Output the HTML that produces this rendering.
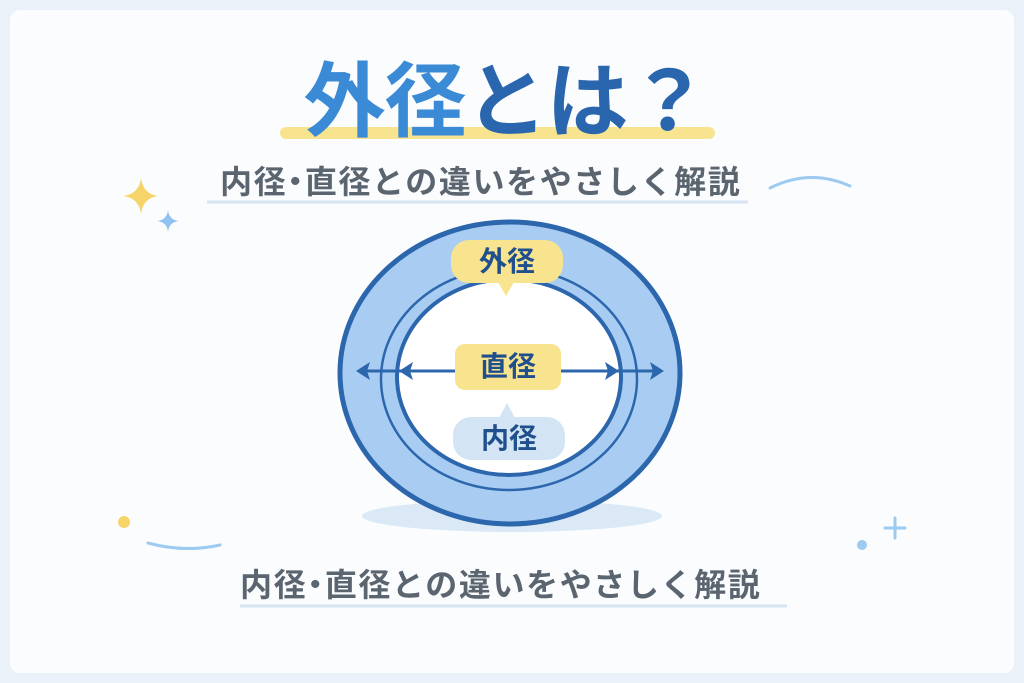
<!DOCTYPE html>
<html><head><meta charset="utf-8"><style>
html,body{margin:0;padding:0;}
body{width:1024px;height:683px;background:#eaf1f8;position:relative;overflow:hidden;font-family:"Liberation Sans","Noto Sans CJK JP",sans-serif;}
.card{position:absolute;left:10px;top:10px;width:1004px;height:663px;background:#fbfcfe;border-radius:10px;}
.t{position:absolute;white-space:nowrap;text-align:center;}
.s{position:absolute;white-space:nowrap;font-size:32px;line-height:40px;color:#5b6570;font-weight:bold;letter-spacing:1.6px;}
</style></head><body>
<div class="card"></div>
<svg width="1024" height="683" style="position:absolute;left:0;top:0">
  <rect x="280" y="127" width="435" height="12" rx="6" fill="#f8e38e"/>
  <line x1="207" y1="202" x2="748" y2="202" stroke="#d6e4f3" stroke-width="3"/>
  <line x1="240" y1="606" x2="787" y2="606" stroke="#d6e4f3" stroke-width="3"/>
  <path d="M141 178 Q143 194 158 196 Q143 198 141 214 Q139 198 123 196 Q139 194 141 178Z" fill="#f6d46a"/>
  <path d="M168 210 Q169 220 179 221 Q169 222 168 232 Q167 222 157 221 Q167 220 168 210Z" fill="#8fc2f0"/>
  <path d="M770 188 Q810 168 850 186" stroke="#9ccaf0" stroke-width="3" fill="none" stroke-linecap="round"/>
  <circle cx="124" cy="522" r="6" fill="#f6d46a"/>
  <path d="M148 543 Q185 553 220 545" stroke="#9ccaf0" stroke-width="3" fill="none" stroke-linecap="round"/>
  <circle cx="862" cy="545" r="5" fill="#9ccaf0"/>
  <path d="M895 518 V538 M885 528 H905" stroke="#9ccaf0" stroke-width="3" stroke-linecap="round"/>
  <ellipse cx="512" cy="516" rx="150" ry="16" fill="#dbe9f7"/>
  <ellipse cx="510" cy="373" rx="170" ry="151" fill="#a9cdf2" stroke="#2c66ad" stroke-width="5"/>
  <ellipse cx="509" cy="379" rx="128" ry="111" fill="none" stroke="#2c66ad" stroke-width="2.5"/>
  <ellipse cx="509" cy="377" rx="112" ry="98" fill="#ffffff" stroke="#2c66ad" stroke-width="4"/>
  <line x1="360" y1="371" x2="660" y2="371" stroke="#2c66ad" stroke-width="3"/>
  <path d="M356 371 L370 362 L367 371 L370 380Z" fill="#2c66ad"/>
  <path d="M664 371 L650 362 L653 371 L650 380Z" fill="#2c66ad"/>
  <path d="M399 371 L413 362 L410 371 L413 380Z" fill="#2c66ad"/>
  <path d="M619 371 L605 362 L608 371 L605 380Z" fill="#2c66ad"/>
  <rect x="451" y="240" width="112" height="43" rx="18" fill="#f8e38e"/>
  <path d="M498 282 L506 296 L514 282Z" fill="#f8e38e"/>
  <rect x="455" y="344" width="106" height="46" rx="10" fill="#f8e38e"/>
  <rect x="453" y="417" width="112" height="43" rx="18" fill="#d3e4f5"/>
  <path d="M499 418 L507 403 L515 418Z" fill="#d3e4f5"/>
</svg>
<div class="t" style="left:-6px;width:1024px;top:55px;font-size:82px;font-weight:bold;line-height:96px;letter-spacing:-1px;"><span style="color:#3a8ad6">外径</span><span style="color:#2a66ad">とは？</span></div>
<div class="s" style="left:220px;top:162px;">内径<span style="margin:0 -8px">・</span>直径との違いをやさしく解説</div>
<div class="s" style="left:240px;top:565px;">内径<span style="margin:0 -8px">・</span>直径との違いをやさしく解説</div>
<div class="t" style="left:451px;width:112px;top:242px;font-size:28px;line-height:40px;color:#1f4f8c;font-weight:bold;">外径</div>
<div class="t" style="left:455px;width:106px;top:347px;font-size:28px;line-height:40px;color:#1f4f8c;font-weight:bold;">直径</div>
<div class="t" style="left:453px;width:112px;top:419px;font-size:28px;line-height:40px;color:#1f4f8c;font-weight:bold;">内径</div>
</body></html>
